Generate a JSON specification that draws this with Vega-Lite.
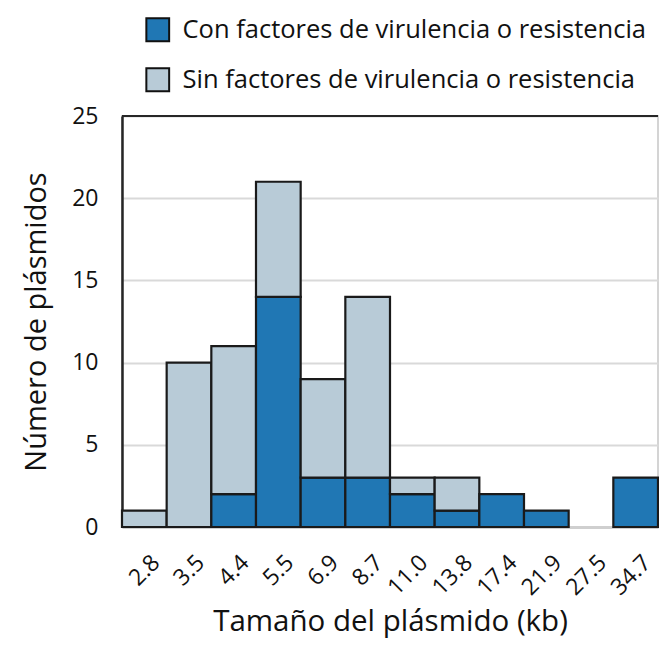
{
  "$schema": "https://vega.github.io/schema/vega-lite/v6.json",
  "width": 536,
  "height": 411,
  "autosize": {"type": "none"},
  "padding": {"left": 122, "top": 116, "right": 1, "bottom": 119},
  "background": "white",
  "config": {
    "font": "Open Sans",
    "view": {"stroke": "#d4d4d4", "strokeWidth": 2},
    "axis": {"labelColor": "#111", "titleColor": "#111", "titleFontWeight": "normal"}
  },
  "data": {
    "values": [
      {"size": "2.8", "grupo": "Sin factores de virulencia o resistencia", "n": 1},
      {"size": "3.5", "grupo": "Sin factores de virulencia o resistencia", "n": 10},
      {"size": "4.4", "grupo": "Con factores de virulencia o resistencia", "n": 2},
      {"size": "4.4", "grupo": "Sin factores de virulencia o resistencia", "n": 9},
      {"size": "5.5", "grupo": "Con factores de virulencia o resistencia", "n": 14},
      {"size": "5.5", "grupo": "Sin factores de virulencia o resistencia", "n": 7},
      {"size": "6.9", "grupo": "Con factores de virulencia o resistencia", "n": 3},
      {"size": "6.9", "grupo": "Sin factores de virulencia o resistencia", "n": 6},
      {"size": "8.7", "grupo": "Con factores de virulencia o resistencia", "n": 3},
      {"size": "8.7", "grupo": "Sin factores de virulencia o resistencia", "n": 11},
      {"size": "11.0", "grupo": "Con factores de virulencia o resistencia", "n": 2},
      {"size": "11.0", "grupo": "Sin factores de virulencia o resistencia", "n": 1},
      {"size": "13.8", "grupo": "Con factores de virulencia o resistencia", "n": 1},
      {"size": "13.8", "grupo": "Sin factores de virulencia o resistencia", "n": 2},
      {"size": "17.4", "grupo": "Con factores de virulencia o resistencia", "n": 2},
      {"size": "21.9", "grupo": "Con factores de virulencia o resistencia", "n": 1},
      {"size": "34.7", "grupo": "Con factores de virulencia o resistencia", "n": 3}
    ]
  },
  "layer": [
    {
      "mark": {"type": "bar", "stroke": "#1a1a1a", "strokeWidth": 2.2},
      "encoding": {
        "x": {
          "field": "size",
          "type": "ordinal",
          "scale": {
            "domain": ["2.8", "3.5", "4.4", "5.5", "6.9", "8.7", "11.0", "13.8", "17.4", "21.9", "27.5", "34.7"],
            "paddingInner": 0,
            "paddingOuter": 0
          },
          "axis": {
            "title": "Tamaño del plásmido (kb)",
            "titleFontSize": 29.5,
            "titlePadding": 8,
            "labelAngle": -45,
            "labelFontSize": 23,
            "labelPadding": 24,
            "labelOffset": 4,
            "ticks": false,
            "tickSize": 0,
            "domainColor": "#cfcfcf",
            "domainWidth": 3
          }
        },
        "y": {
          "field": "n",
          "type": "quantitative",
          "stack": "zero",
          "scale": {"domain": [0, 25], "nice": false},
          "axis": {
            "title": "Número de plásmidos",
            "titleFontSize": 29,
            "titlePadding": 20,
            "values": [0, 5, 10, 15, 20, 25],
            "labelFontSize": 23,
            "labelPadding": 24,
            "ticks": false,
            "tickSize": 0,
            "domainColor": "#262626",
            "domainWidth": 2.5,
            "gridColor": "#d9d9d9",
            "gridWidth": 2
          }
        },
        "color": {
          "field": "grupo",
          "type": "nominal",
          "scale": {
            "domain": ["Con factores de virulencia o resistencia", "Sin factores de virulencia o resistencia"],
            "range": ["#2077b4", "#b8cbd7"]
          },
          "legend": {
            "title": null,
            "orient": "none",
            "legendX": 23,
            "legendY": -99,
            "symbolType": "square",
            "symbolSize": 520,
            "symbolStrokeColor": "#111",
            "symbolStrokeWidth": 2,
            "symbolOpacity": 1,
            "labelFontSize": 25.5,
            "labelColor": "#111",
            "labelOffset": 12,
            "rowPadding": 18,
            "labelLimit": 600
          }
        },
        "order": {"field": "grupo", "sort": "ascending"}
      }
    },
    {
      "mark": {"type": "rule", "color": "#262626", "strokeWidth": 2},
      "encoding": {"y": {"datum": 25}}
    }
  ]
}
